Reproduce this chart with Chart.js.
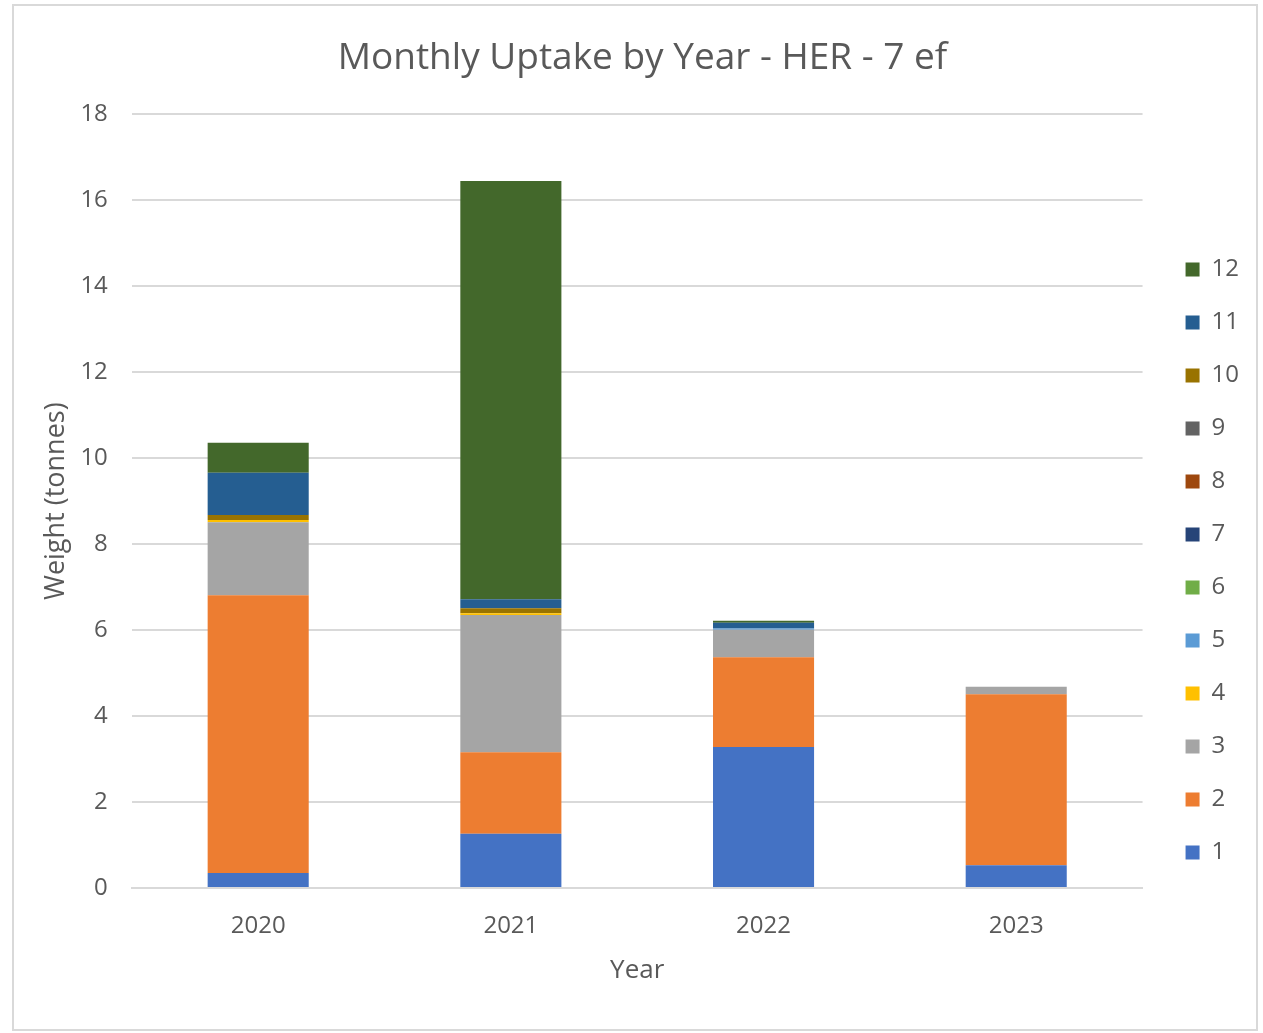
<!DOCTYPE html>
<html>
<head>
<meta charset="utf-8">
<script src="https://cdn.jsdelivr.net/npm/chart.js@4.4.1/dist/chart.umd.min.js"></script>
<style>
  html, body { margin: 0; padding: 0; background: #fff; }
  #frame {
    position: absolute; left: 12px; top: 4px;
    width: 1246px; height: 1027px;
    border: 2px solid #d9d9d9; box-sizing: border-box;
  }
  #frame canvas { display: block; }
</style>
</head>
<body>
<div id="frame"><canvas id="chart" width="1242" height="1023"></canvas></div>
<script>
// categories
const years = ['2020', '2021', '2022', '2023']
const months = ['1', '2', '3', '4', '5', '6', '7', '8', '9', '10', '11', '12']

// monthly uptake in tonnes, one array per month
const month1 = [0.35, 1.26, 3.28, 0.53]
const month2 = [6.46, 1.90, 2.09, 3.98]
const month3 = [1.70, 3.19, 0.64, 0.17]
const month4 = [0.05, 0.04, 0, 0]
const month5 = [0, 0, 0.03, 0]
const month6 = [0, 0, 0, 0]
const month7 = [0, 0, 0, 0]
const month8 = [0, 0, 0, 0]
const month9 = [0, 0, 0, 0]
const month10 = [0.12, 0.12, 0, 0]
const month11 = [0.98, 0.21, 0.13, 0]
const month12 = [0.70, 9.73, 0.05, 0]

const monthColors = ['#4472C4', '#ED7D31', '#A5A5A5', '#FFC000', '#5B9BD5', '#70AD47',
  '#264478', '#9E480E', '#636363', '#997300', '#255E91', '#43682B']

const series = [month1, month2, month3, month4, month5, month6,
  month7, month8, month9, month10, month11, month12]

const textColor = '#595959'
const gridColor = '#d9d9d9'
const font = 'Open Sans'

const datasets = series.map((values, i) => ({
  label: months[i],
  data: values,
  backgroundColor: monthColors[i],
  borderWidth: 0,
  barPercentage: 0.4,
  categoryPercentage: 1.0
}))

// Excel puts the legend a bit further from the plot and lower down
const legendOffset = { x: 14, y: 51 }
const legendShift = {
  id: 'legendShift',
  beforeInit(chart) {
    const legend = chart.legend
    const fit = legend.fit
    legend.fit = function () {
      fit.call(this)
      this.width += legendOffset.x
    }
    const draw = legend.draw
    legend.draw = function () {
      this.ctx.save()
      this.ctx.translate(legendOffset.x, legendOffset.y)
      draw.call(this)
      this.ctx.restore()
    }
  }
}

new Chart(document.getElementById('chart'), {
  type: 'bar',
  data: { labels: years, datasets: datasets },
  plugins: [legendShift],
  options: {
    responsive: false,
    animation: false,
    layout: { padding: { left: 22, right: 7, top: 22, bottom: 37 } },
    plugins: {
      title: {
        display: true,
        text: 'Monthly Uptake by Year - HER - 7 ef',
        color: textColor,
        font: { family: font, size: 37, weight: 'normal' },
        padding: { top: 8, bottom: 34 }
      },
      legend: {
        position: 'right',
        reverse: true,
        labels: {
          color: textColor,
          font: { family: font, size: 24 },
          boxWidth: 14,
          boxHeight: 14,
          padding: 29
        }
      },
      tooltip: { enabled: false }
    },
    scales: {
      x: {
        stacked: true,
        grid: { display: false },
        border: { color: gridColor, width: 2 },
        ticks: { color: textColor, font: { family: font, size: 24 }, padding: 16 },
        title: {
          display: true, text: 'Year', color: textColor,
          font: { family: font, size: 26 }, padding: { top: -2, bottom: 6 }
        }
      },
      y: {
        stacked: true,
        min: 0,
        max: 18,
        afterFit(scale) { scale.width -= 16 },
        ticks: { stepSize: 2, color: textColor, font: { family: font, size: 24 }, padding: 24 },
        grid: { color: gridColor, lineWidth: 2, drawTicks: false },
        border: { display: false },
        title: {
          display: true, text: 'Weight (tonnes)', color: textColor,
          font: { family: font, size: 27 }, padding: { top: 4, bottom: 0 }
        }
      }
    }
  }
})
</script>
</body>
</html>
